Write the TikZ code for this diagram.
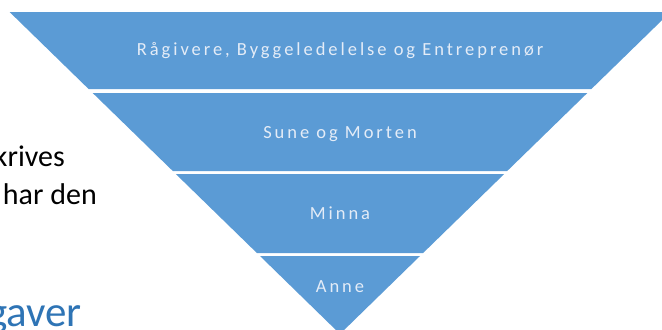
\documentclass[tikz,border=0pt]{standalone}
\usepackage{fontspec}
\setmainfont{Carlito}
\newfontfamily\pyrfont[LetterSpace=16]{Carlito}
\definecolor{bandblue}{HTML}{5B9BD5}
\definecolor{headblue}{HTML}{2E74B5}
\definecolor{bandtext}{HTML}{E4ECF7}
\begin{document}
\begin{tikzpicture}[x=1bp,y=-1bp,
  band/.style={fill=bandblue},
  bandtxt/.style={text=bandtext,font=\pyrfont\fontsize{18.5bp}{20bp}\selectfont,inner sep=0,anchor=base},
  bodytxt/.style={text=black,font=\fontsize{30bp}{34bp}\selectfont,inner sep=0,anchor=base east},
  headtxt/.style={text=headblue,font=\fontsize{43bp}{48bp}\selectfont,inner sep=0,anchor=base east}]
\useasboundingbox (0,0) rectangle (662,329);
\clip (0,0) rectangle (662,329);
% pyramid bands
\fill[band] (9.6,12) -- (670.4,12) -- (591.4,89) -- (88.6,89) -- cycle;
\fill[band] (92.7,93) -- (587.3,93) -- (507.2,171) -- (172.8,171) -- cycle;
\fill[band] (175.8,174) -- (504.2,174) -- (423.1,253) -- (256.9,253) -- cycle;
\fill[band] (260,256) -- (420,256) -- (340,334) -- cycle;
% band labels
\node[bandtxt] (l1) at (340,55) {Rågivere, Byggeledelelse og Entreprenør};
\node[bandtxt] (l2) at (340,138) {Sune og Morten};
\node[bandtxt] (l3) at (340,219) {Minna};
\node[bandtxt] (l4) at (340,292) {Anne};
% surrounding document text
\node[bodytxt] (t1) at (65,166) {krives};
\node[bodytxt] (t2) at (97,204) {har den};
\node[headtxt] (h1) at (82,326) {gaver};
\end{tikzpicture}
\end{document}
